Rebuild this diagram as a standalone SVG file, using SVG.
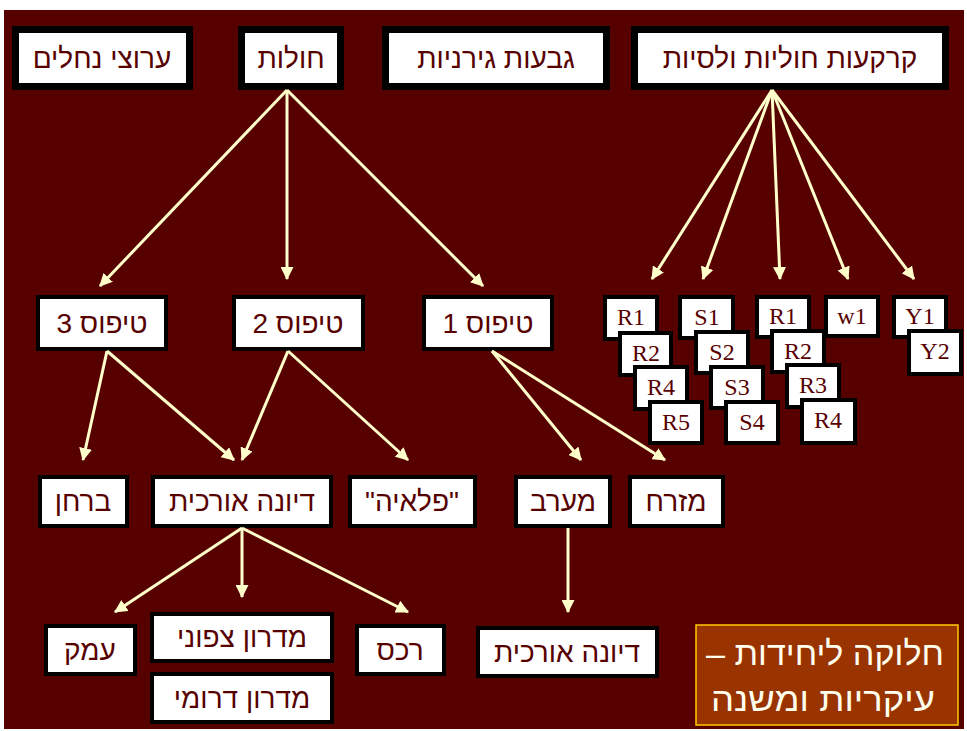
<svg xmlns="http://www.w3.org/2000/svg" width="967" height="731" viewBox="0 0 967 731">
<style>
.bg{fill:#570000}
.big rect{fill:#fff;stroke:#000;stroke-width:7}
.box rect{fill:#fff;stroke:#000;stroke-width:4}
.heb{font-family:"Liberation Sans","Arimo","DejaVu Sans",sans-serif;font-size:28px;fill:#570000;text-anchor:middle;direction:rtl}
.lat{font-family:"Liberation Serif","Times New Roman",serif;font-size:24px;fill:#570000;text-anchor:middle}
.sum rect{fill:#993300;stroke:#FFCC00;stroke-width:1.5}
.sum text{font-family:"Liberation Sans","Arimo","DejaVu Sans",sans-serif;font-size:33px;fill:#FFFFEE;text-anchor:middle;direction:rtl}
#connectors line{stroke:#FFFFCC;stroke-width:3;marker-end:url(#ah)}
</style>
<defs>
<marker id="ah" viewBox="0 0 12 12" refX="11" refY="6" markerWidth="13" markerHeight="13" markerUnits="userSpaceOnUse" orient="auto">
<path d="M0,0 L12,6 L0,12 z" fill="#FFFFCC"/>
</marker>
</defs>
<rect width="967" height="731" fill="#fff"/>
<rect class="bg" x="4" y="10" width="960" height="719"/>

<g id="n-wadis" class="big"><rect x="15.5" y="29.5" width="174" height="57"/><text class="heb" x="102" y="68">ערוצי נחלים</text></g>
<g id="n-sands" class="big"><rect x="241.5" y="29.5" width="99" height="57"/><text class="heb" x="291" y="68">חולות</text></g>
<g id="n-hills" class="big"><rect x="385.5" y="29.5" width="221" height="57"/><text class="heb" x="496" y="68">גבעות גירניות</text></g>
<g id="n-soils" class="big"><rect x="634.5" y="29.5" width="311" height="57"/><text class="heb" x="790" y="68">קרקעות חוליות ולסיות</text></g>

<g id="n-type3" class="box"><rect x="38" y="297" width="128" height="52"/><text class="heb" x="102" y="333">טיפוס 3</text></g>
<g id="n-type2" class="box"><rect x="234" y="297" width="129" height="52"/><text class="heb" x="298" y="333">טיפוס 2</text></g>
<g id="n-type1" class="box"><rect x="424" y="297" width="128" height="52"/><text class="heb" x="488" y="333">טיפוס 1</text></g>

<g id="n-r1a" class="box"><rect x="605" y="297" width="52" height="42"/><text class="lat" x="631" y="325">R1</text></g>
<g id="n-r2a" class="box"><rect x="620" y="333" width="51" height="42"/><text class="lat" x="646" y="361">R2</text></g>
<g id="n-r4a" class="box"><rect x="635" y="367" width="52" height="42"/><text class="lat" x="661" y="395">R4</text></g>
<g id="n-r5" class="box"><rect x="650" y="402" width="52" height="41"/><text class="lat" x="676" y="430">R5</text></g>
<g id="n-s1" class="box"><rect x="680" y="297" width="53" height="41"/><text class="lat" x="707" y="325">S1</text></g>
<g id="n-s2" class="box"><rect x="696" y="332" width="52" height="41"/><text class="lat" x="722" y="360">S2</text></g>
<g id="n-s3" class="box"><rect x="711" y="367" width="52" height="41"/><text class="lat" x="737" y="395">S3</text></g>
<g id="n-s4" class="box"><rect x="726" y="402" width="52" height="41"/><text class="lat" x="752" y="430">S4</text></g>
<g id="n-r1b" class="box"><rect x="757" y="297" width="52" height="40"/><text class="lat" x="783" y="324">R1</text></g>
<g id="n-r2b" class="box"><rect x="772" y="331" width="52" height="41"/><text class="lat" x="798" y="359">R2</text></g>
<g id="n-r3b" class="box"><rect x="787" y="365" width="52" height="42"/><text class="lat" x="813" y="393">R3</text></g>
<g id="n-r4b" class="box"><rect x="802" y="400" width="53" height="43"/><text class="lat" x="828" y="428">R4</text></g>
<g id="n-w1" class="box"><rect x="826" y="297" width="52" height="39"/><text class="lat" x="852" y="324">w1</text></g>
<g id="n-y1" class="box"><rect x="894" y="297" width="52" height="40"/><text class="lat" x="920" y="324">Y1</text></g>
<g id="n-y2" class="box"><rect x="909" y="331" width="52" height="43"/><text class="lat" x="935" y="359">Y2</text></g>

<g id="n-barchan" class="box"><rect x="40" y="477" width="87" height="49"/><text class="heb" x="83" y="511">ברחן</text></g>
<g id="n-dune1" class="box"><rect x="153" y="477" width="178" height="49"/><text class="heb" x="242" y="511">דיונה אורכית</text></g>
<g id="n-playa" class="box"><rect x="350" y="477" width="125" height="49"/><text class="heb" x="412" y="511">"פלאיה"</text></g>
<g id="n-west" class="box"><rect x="516" y="477" width="94" height="49"/><text class="heb" x="563" y="511">מערב</text></g>
<g id="n-east" class="box"><rect x="630" y="477" width="93" height="49"/><text class="heb" x="676" y="511">מזרח</text></g>

<g id="n-valley" class="box"><rect x="46" y="626" width="89" height="48"/><text class="heb" x="90" y="660">עמק</text></g>
<g id="n-north" class="box"><rect x="152" y="614" width="180" height="47"/><text class="heb" x="242" y="647">מדרון צפוני</text></g>
<g id="n-south" class="box"><rect x="152" y="674" width="180" height="48"/><text class="heb" x="242" y="708">מדרון דרומי</text></g>
<g id="n-ridge" class="box"><rect x="357" y="626" width="87" height="48"/><text class="heb" x="400" y="660">רכס</text></g>
<g id="n-dune2" class="box"><rect x="478" y="628" width="179" height="48"/><text class="heb" x="567" y="662">דיונה אורכית</text></g>

<g id="n-summary" class="sum"><rect x="696" y="625" width="262" height="100"/><text x="825" y="665" textLength="238" lengthAdjust="spacingAndGlyphs">חלוקה ליחידות –</text><text x="823" y="711" textLength="224" lengthAdjust="spacingAndGlyphs">עיקריות ומשנה</text></g>

<g id="connectors">
<line x1="287" y1="90" x2="100" y2="286"/>
<line x1="287" y1="90" x2="287" y2="279"/>
<line x1="287" y1="90" x2="483" y2="286"/>
<line x1="772" y1="90" x2="652" y2="279"/>
<line x1="772" y1="90" x2="703" y2="279"/>
<line x1="772" y1="90" x2="780" y2="279"/>
<line x1="772" y1="90" x2="848" y2="279"/>
<line x1="772" y1="90" x2="914" y2="279"/>
<line x1="107" y1="351" x2="83" y2="460"/>
<line x1="107" y1="351" x2="234" y2="460"/>
<line x1="288" y1="351" x2="242" y2="460"/>
<line x1="288" y1="351" x2="408" y2="460"/>
<line x1="492" y1="351" x2="581" y2="460"/>
<line x1="492" y1="351" x2="665" y2="460"/>
<line x1="242" y1="528" x2="115" y2="612"/>
<line x1="242" y1="528" x2="242" y2="597"/>
<line x1="242" y1="528" x2="408" y2="612"/>
<line x1="568" y1="528" x2="568" y2="612"/>
</g>
</svg>
